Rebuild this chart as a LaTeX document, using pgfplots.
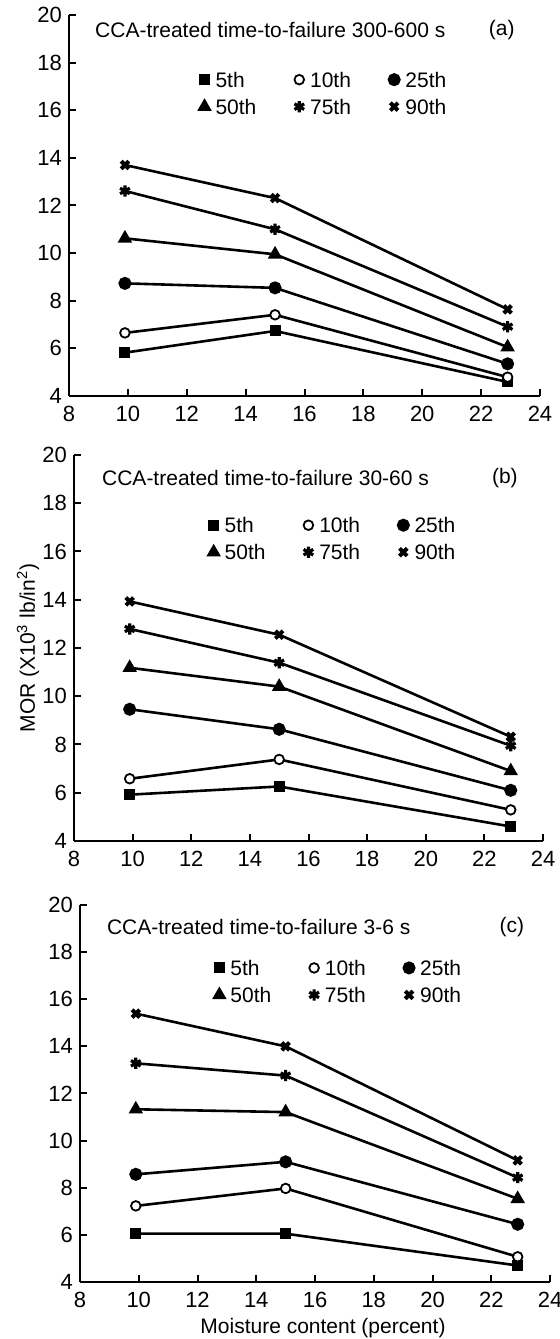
\documentclass[border=0pt]{standalone}
\usepackage{fontspec}
\setmainfont{Liberation Sans}
\usepackage{pgfplots}
\pgfplotsset{compat=1.18}

\newcommand{\txt}{\fontsize{10.5}{12}\selectfont}
\newcommand{\tck}{\fontsize{11}{13}\selectfont}

\pgfplotsset{
  panel/.style={
    scale only axis, anchor=south west, clip=false,
    xmin=8, xmax=24, ymin=4, ymax=20,
    xtick={8,10,...,24}, ytick={4,6,...,20},
    axis x line*=bottom, axis y line*=left,
    axis line style={line width=1.2pt, -},
    tick align=inside, major tick length=3.5pt,
    every tick/.style={black, line width=1pt},
    /pgf/number format/assume math mode=true,
    tick label style={font=\tck},
    xticklabel style={yshift=-1.5pt},
    legend columns=3, legend cell align=left,
    legend style={draw=none, fill=none, font=\txt, anchor=north west,
      inner sep=0pt, row sep=4pt,
      nodes={inner sep=1pt, text height=7.5pt, text depth=0pt},
      /tikz/every even column/.append style={column sep=18pt},
      /tikz/every odd column/.append style={column sep=2pt}},
    legend image code/.code={\draw[##1] plot[only marks] coordinates {(0pt,0pt)};},
  },
  p5/.style={black, line width=1.3pt, mark=square*, mark size=2.1pt, mark options={solid}},
  p10/.style={black, line width=1.3pt, mark=*, mark size=2.4pt, mark options={solid, fill=white, line width=0.9pt}},
  p25/.style={black, line width=1.3pt, mark=*, mark size=2.6pt, mark options={solid}},
  p50/.style={black, line width=1.3pt, mark=triangle*, mark size=2.9pt, mark options={solid}},
  p75/.style={black, line width=1.3pt, mark=asterisk, mark size=2.8pt, mark options={solid, line width=1.6pt}},
  p90/.style={black, line width=1.3pt, mark=x, mark size=2.7pt, mark options={solid, line width=2pt}},
}

\begin{document}
\begin{tikzpicture}[x=1pt,y=1pt]
\useasboundingbox (0,0) rectangle (280,669.5);

% (a) 300-600 s
\begin{axis}[panel, at={(34.5pt,471.5pt)}, width=235.5pt, height=190.5pt,
    legend style={at={(axis cs:12.42,17.7)}}]
  \addplot[p5]  coordinates {(9.9,5.82) (15,6.73) (22.9,4.59)};
  \addplot[p10] coordinates {(9.9,6.65) (15,7.41) (22.9,4.79)};
  \addplot[p25] coordinates {(9.9,8.73) (15,8.54) (22.9,5.35)};
  \addplot[p50] coordinates {(9.9,10.62) (15,9.95) (22.9,6.05)};
  \addplot[p75] coordinates {(9.9,12.61) (15,11.0) (22.9,6.91)};
  \addplot[p90] coordinates {(9.9,13.70) (15,12.31) (22.9,7.64)};
  \legend{5th,10th,25th,50th,75th,90th}
  \node[anchor=west, font=\txt] at (axis cs:8.65,19.37) {CCA-treated time-to-failure 300-600 s};
  \node[font=\txt] at (axis cs:22.7,19.37) {(a)};
\end{axis}

% (b) 30-60 s
\begin{axis}[panel, at={(37pt,249pt)}, width=234.5pt, height=193pt,
    legend style={at={(axis cs:12.58,17.5)}},
    ylabel={MOR (X10\textsuperscript{3} lb/in\textsuperscript{2})},
    ylabel style={at={(axis description cs:-0.098,0.5)}, anchor=center, font=\txt}]
  \addplot[p5]  coordinates {(9.9,5.92) (15,6.26) (22.9,4.6)};
  \addplot[p10] coordinates {(9.9,6.58) (15,7.38) (22.9,5.29)};
  \addplot[p25] coordinates {(9.9,9.46) (15,8.63) (22.9,6.1)};
  \addplot[p50] coordinates {(9.9,11.18) (15,10.4) (22.9,6.9)};
  \addplot[p75] coordinates {(9.9,12.79) (15,11.39) (22.9,7.95)};
  \addplot[p90] coordinates {(9.9,13.93) (15,12.55) (22.9,8.32)};
  \legend{5th,10th,25th,50th,75th,90th}
  \node[anchor=west, font=\txt] at (axis cs:8.72,19.05) {CCA-treated time-to-failure 30-60 s};
  \node[font=\txt] at (axis cs:22.7,19.05) {(b)};
\end{axis}

% (c) 3-6 s
\begin{axis}[panel, at={(40pt,28.5pt)}, width=235pt, height=188.5pt,
    legend style={at={(axis cs:12.56,17.75)}},
    xlabel={Moisture content (percent)},
    xlabel style={at={(axis description cs:0.517,-0.123)}, anchor=center, font=\txt}]
  \addplot[p5]  coordinates {(9.9,6.05) (15,6.05) (22.9,4.7)};
  \addplot[p10] coordinates {(9.9,7.23) (15,7.97) (22.9,5.07)};
  \addplot[p25] coordinates {(9.9,8.57) (15,9.1) (22.9,6.45)};
  \addplot[p50] coordinates {(9.9,11.33) (15,11.21) (22.9,7.53)};
  \addplot[p75] coordinates {(9.9,13.28) (15,12.76) (22.9,8.43)};
  \addplot[p90] coordinates {(9.9,15.39) (15,14.0) (22.9,9.16)};
  \legend{5th,10th,25th,50th,75th,90th}
  \node[anchor=west, font=\txt] at (axis cs:8.68,19.07) {CCA-treated time-to-failure 3-6 s};
  \node[font=\txt] at (axis cs:22.7,19.07) {(c)};
\end{axis}
\end{tikzpicture}
\end{document}
